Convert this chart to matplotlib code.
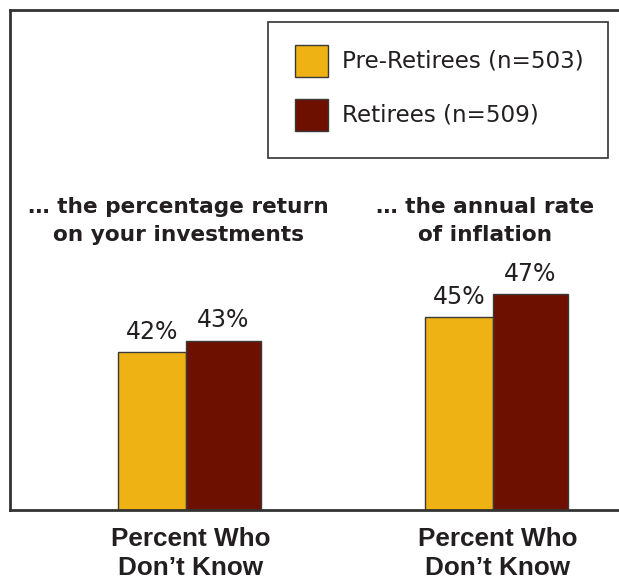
import matplotlib.pyplot as plt
from matplotlib.patches import Rectangle

# data
groups = ["… the percentage return\non your investments", "… the annual rate\nof inflation"]
bottom_labels = ["Percent Who\nDon’t Know", "Percent Who\nDon’t Know"]
series = ["Pre-Retirees (n=503)", "Retirees (n=509)"]
pre_retirees = [42, 45]
retirees = [43, 47]

yellow = "#EFB215"
darkred = "#6D1000"
ink = "#231F20"
colors = [yellow, darkred]

plt.rcParams["font.family"] = ["DejaVu Sans"]

W, H = 619, 582
fig = plt.figure(figsize=(W / 100, H / 100), dpi=100)
ax = fig.add_axes([10 / W, 72 / H, 1 - 10 / W + 0.02, 500 / H])

x = list(range(len(groups)))
b1 = ax.bar(x, pre_retirees, width=-0.222, align="edge", color=yellow,
            edgecolor="#3a3a3a", linewidth=1)
b2 = ax.bar(x, retirees, width=0.244, align="edge", color=darkred,
            edgecolor="#3a3a3a", linewidth=1)

ax.set_xlim(-0.573, -0.573 + 621.4 / 307)
ax.set_ylim(28.4, 71.5)

for bars, vals in [(b1, pre_retirees), (b2, retirees)]:
    for r, v in zip(bars, vals):
        ax.annotate(f"{v}%", (r.get_x() + r.get_width() / 2, v), xytext=(0, 6),
                    textcoords="offset points", ha="center", va="bottom",
                    fontsize=17, color=ink)

for xi, g in zip(x, groups):
    ax.text(xi - 0.025, 0.578, g, transform=ax.get_xaxis_transform(), ha="center",
            va="center", fontsize=15.6, fontweight="bold", color=ink, linespacing=1.5)

for xi, lab in zip(x, bottom_labels):
    ax.text(xi + 0.015, -0.087, lab, transform=ax.get_xaxis_transform(), ha="center",
            va="center", fontsize=18.8, fontweight="bold", color=ink,
            family=["Liberation Sans", "DejaVu Sans"], linespacing=1.22)

ax.set_xticks([])
ax.set_yticks([])
ax.spines["right"].set_visible(False)
for s in ["left", "top", "bottom"]:
    ax.spines[s].set_linewidth(2)
    ax.spines[s].set_color("#333333")

# legend box, drawn by hand so the square swatches match
def fx(px):
    return px / W

def fy(py):
    return 1 - py / H

fig.patches.append(Rectangle((fx(268), fy(158)), fx(608) - fx(268), fy(22) - fy(158),
                             transform=fig.transFigure, facecolor="white",
                             edgecolor="#333333", linewidth=1.2))
for i, (name, c) in enumerate(zip(series, colors)):
    top = 45 + i * 54
    fig.patches.append(Rectangle((fx(295), fy(top + 32)), fx(33), 32 / H,
                                 transform=fig.transFigure, facecolor=c,
                                 edgecolor="#3a3a3a", linewidth=1))
    fig.text(fx(342), fy(top + 16), name, ha="left", va="center",
             fontsize=16.6, color=ink)

fig.savefig("out.png", dpi=100)
